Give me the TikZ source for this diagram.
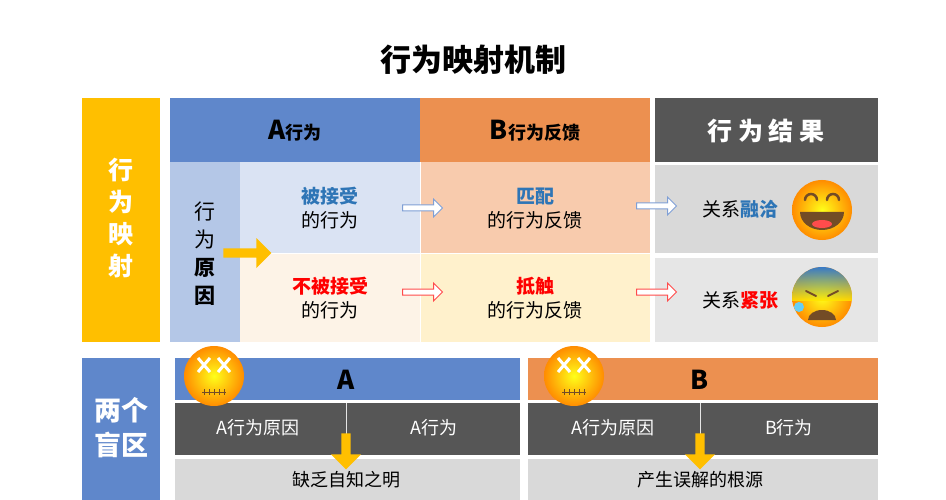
\documentclass[tikz,border=0pt]{standalone}
\usepackage{fontspec}
\setmainfont{Noto Sans CJK SC}
\usetikzlibrary{shapes.arrows}
\definecolor{hb}{HTML}{5F87CB}
\definecolor{ho}{HTML}{EC9050}
\definecolor{dg}{HTML}{565656}
\definecolor{yb}{HTML}{FFBF00}
\definecolor{lb}{HTML}{DAE3F3}
\definecolor{mb}{HTML}{B4C7E7}
\definecolor{pc}{HTML}{F8CBAD}
\definecolor{cr}{HTML}{FDF3E7}
\definecolor{ly}{HTML}{FFF1CC}
\definecolor{g1}{HTML}{D9D9D9}
\definecolor{g2}{HTML}{E6E6E6}
\definecolor{tb}{HTML}{2E75B6}
\begin{document}
\begin{tikzpicture}[x=1pt,y=-1pt,
 hol/.style={single arrow,draw=#1,fill=white,line width=1pt,minimum height=40pt,minimum width=18pt,single arrow head extend=3pt,inner sep=1pt},
 ya/.style={single arrow,fill=yb,draw=none,minimum height=#1,minimum width=30pt,single arrow head extend=5pt,inner sep=2pt},
 emo/.style={circle,minimum size=60pt,inner sep=0pt,shading=radial,inner color=yellow!90!white,outer color=orange!90!yellow}]
\useasboundingbox (0,0) rectangle (946,500);
\fill[white] (0,0) rectangle (946,500);
\node[font=\bfseries\fontsize{31}{33}\selectfont] (title) at (473,60) {行为映射机制};
\fill[yb] (82,98) rectangle (160,342);
\node[white,font=\bfseries\fontsize{25}{32}\selectfont,align=center] (map) at (121,218) {行\\为\\映\\射};
\fill[hb] (170,98) rectangle (420,162);
\fill[ho] (420,98) rectangle (650,162);
\fill[dg] (655,98) rectangle (878,162);
\node[font=\bfseries\fontsize{18}{20}\selectfont] (ha) at (295,131) {{\fontsize{26}{28}\selectfont A}行为};
\node[font=\bfseries\fontsize{18}{20}\selectfont] (hbb) at (535,131) {{\fontsize{26}{28}\selectfont B}行为反馈};
\node[white,font=\bfseries\fontsize{25}{27}\selectfont] (hc) at (766,131) {行 为 结 果};
\fill[mb] (170,162) rectangle (240,342);
\fill[lb] (240,162) rectangle (420,253);
\fill[cr] (240,253) rectangle (420,342);
\fill[pc] (420,162) rectangle (650,253);
\fill[ly] (420,253) rectangle (650,342);
\draw[white,line width=0.6pt] (420,162)--(420,342) (240,253)--(650,253);
\fill[g1] (655,165) rectangle (878,253);
\fill[g2] (655,258) rectangle (878,342);
\node[font=\fontsize{21}{28}\selectfont,align=center] (why) at (205,254) {行\\为\\\textbf{原}\\\textbf{因}};
\node[align=center,font=\fontsize{19}{24}\selectfont] (c1) at (330,208) {\textcolor{tb}{\textbf{被接受}}\\的行为};
\node[align=center,font=\fontsize{19}{24}\selectfont] (c2) at (330,298) {\textcolor{red}{\textbf{不被接受}}\\的行为};
\node[align=center,font=\fontsize{19}{24}\selectfont] (c3) at (535,208) {\textcolor{tb}{\textbf{匹配}}\\的行为反馈};
\node[align=center,font=\fontsize{19}{24}\selectfont] (c4) at (535,298) {\textcolor{red}{\textbf{抵触}}\\的行为反馈};
\node[font=\fontsize{19}{24}\selectfont] (r1) at (740,209) {关系\textcolor{tb}{\textbf{融洽}}};
\node[font=\fontsize{19}{24}\selectfont] (r2) at (740,300) {关系\textcolor{red}{\textbf{紧张}}};
\node[hol=hb!80] (a1) at (421,208) {};
\node[hol=red!70] (a2) at (421,292) {};
\node[hol=hb!80] (a3) at (655,206) {};
\node[hol=red!70] (a4) at (655,292) {};
\node[ya=48pt] (ya0) at (245,253) {};
% happy emoji
\node[emo] (e1) at (822,210) {};
\draw[line width=2.5pt,brown!60!black,line cap=round] (805,200) arc (180:360:6) (827,200) arc (180:360:6);
\fill[brown!60!black] (800,212) -- (844,212) arc (0:180:22 and 18) -- cycle;
\fill[red!70] (822,224) ellipse (10 and 4);
% anxious emoji
\node[emo] (e2) at (822,297) {};
\begin{scope}
\clip (822,297) circle (30);
\shade[top color=blue!55!cyan,bottom color=yellow!80!orange,opacity=.8] (790,266) rectangle (854,300);
\end{scope}
\draw[line width=2pt,brown!60!black,line cap=round] (806,291)--(816,296) (838,291)--(828,296);
\fill[brown!60!black] (808,320) arc (180:360:14 and 10) -- cycle;
\fill[cyan!60] (799,307) circle (5);
% bottom
\fill[hb] (82,358) rectangle (160,500);
\node[white,font=\bfseries\fontsize{27}{35}\selectfont,align=center] (bl) at (121,428) {两个\\盲区};
\fill[hb] (175,358) rectangle (520,400);
\fill[ho] (528,358) rectangle (878,400);
\fill[dg] (175,403) rectangle (520,455);
\fill[dg] (528,403) rectangle (878,455);
\fill[g1] (175,459) rectangle (520,500);
\fill[g1] (528,459) rectangle (878,500);
\draw[white!80!gray,line width=0.6pt] (346,403)--(346,455) (700,403)--(700,455);
\node[font=\bfseries\fontsize{26}{28}\selectfont] (A) at (346,380) {A};
\node[font=\bfseries\fontsize{26}{28}\selectfont] (B) at (700,380) {B};
\node[white,font=\fontsize{18}{20}\selectfont] (d1) at (258,428) {A行为原因};
\node[white,font=\fontsize{18}{20}\selectfont] (d2) at (434,428) {A行为};
\node[white,font=\fontsize{18}{20}\selectfont] (d3) at (613,428) {A行为原因};
\node[white,font=\fontsize{18}{20}\selectfont] (d4) at (789,428) {B行为};
\node[font=\fontsize{18}{20}\selectfont] (f1) at (346,480) {缺乏自知之明};
\node[font=\fontsize{18}{20}\selectfont] (f2) at (700,480) {产生误解的根源};
\node[ya=36pt,rotate=-90] (ya1) at (346,449) {};
\node[ya=36pt,rotate=-90] (ya2) at (700,449) {};
\foreach \n/\x in {e3/214,e4/574}{
 \node[emo] (\n) at (\x,376) {};
 \draw[white,line width=3pt] (\x-16,358)--(\x-4,372) (\x-16,372)--(\x-4,358) (\x+4,358)--(\x+16,372) (\x+4,372)--(\x+16,358);
 \draw[brown!60!black,line width=0.6pt] (\x-12,392)--(\x+12,392);
 \foreach \k in {-9,-4,1,6,11}{\draw[brown!60!black,line width=0.6pt] (\x+\k-1,389)--(\x+\k-1,395);}
}
\end{tikzpicture}
\end{document}
